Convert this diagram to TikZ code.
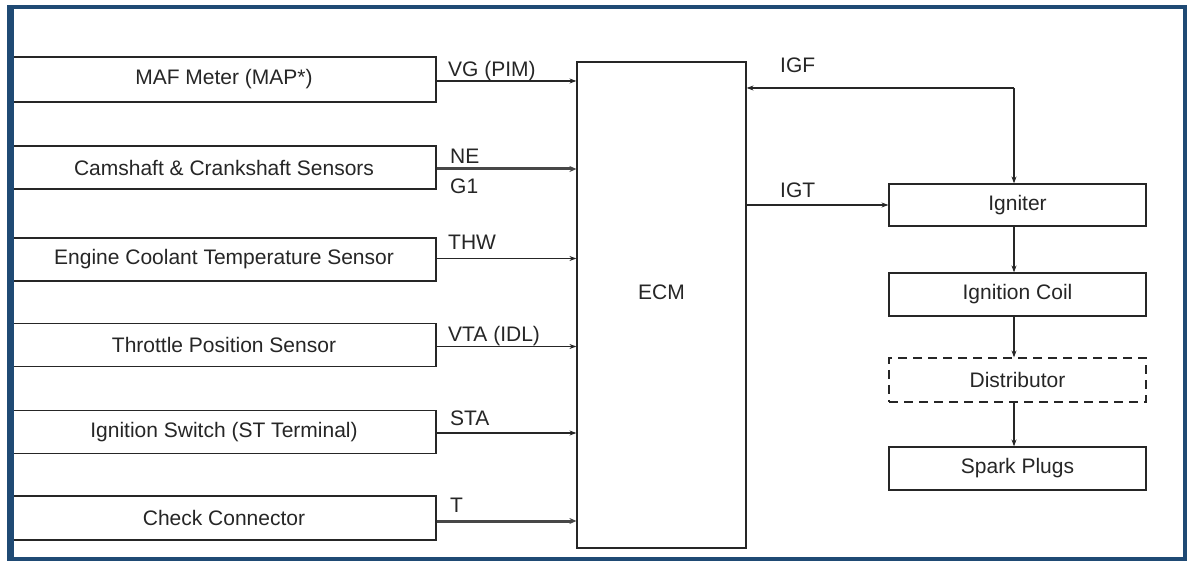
\documentclass[tikz,border=0pt]{standalone}
\usepackage{fontspec}
\setmainfont{Liberation Sans}
\usetikzlibrary{arrows.meta}
\definecolor{frameblue}{HTML}{1F4A74}
\definecolor{ink}{HTML}{262626}
\begin{document}
\begin{tikzpicture}[x=1pt,y=-1pt,
  box/.style={draw=ink,line width=1.2pt,rectangle,inner sep=0pt,text=ink,
    font=\fontsize{21}{24}\selectfont},
  lbox/.style={box,minimum width=424pt,minimum height=43pt},
  rbox/.style={box,minimum width=257pt,minimum height=43pt},
  sig/.style={font=\fontsize{21}{24}\selectfont,text=ink,inner sep=0pt,anchor=west},
  arr/.style={draw=ink,line width=1.1pt,-{Stealth[length=7pt,width=5pt]}},
  thickarr/.style={draw=ink!85,line width=3pt,-{Stealth[length=7pt,width=6pt]}}]
\useasboundingbox (0,0) rectangle (1187,561);
\fill[white] (0,0) rectangle (1187,561);
% left sensor boxes
\node[lbox,minimum height=45pt] (maf) at (224,79.5) {MAF Meter (MAP*)};
\node[lbox] (cam) at (224,167.5) {Camshaft \& Crankshaft Sensors};
\node[lbox] (ect) at (224,259.5) {Engine Coolant Temperature Sensor};
\node[lbox] (tps) at (224,345) {Throttle Position Sensor};
\node[lbox] (ign) at (224,432) {Ignition Switch (ST Terminal)};
\node[lbox,minimum height=44pt] (chk) at (224,518) {Check Connector};
% ECM
\node[box,minimum width=169pt,minimum height=486pt,
  label={[font=\fontsize{21}{24}\selectfont,text=ink,yshift=13pt]center:ECM}] (ecm) at (661.5,305) {};
% right chain
\node[rbox,minimum height=42pt] (igniter) at (1017.5,205) {Igniter};
\node[rbox] (coil) at (1017.5,294.5) {Ignition Coil};
\node[rbox,minimum height=44pt,dashed,dash pattern=on 9pt off 6pt] (dist) at (1017.5,380) {Distributor};
\node[rbox] (spark) at (1017.5,468.5) {Spark Plugs};
% inputs
\draw[arr] (maf.east |- 0,81) -- (ecm.west |- 0,81);
\draw[thickarr] (cam.east |- 0,169) -- (ecm.west |- 0,169);
\draw[arr] (ect.east |- 0,258.5) -- (ecm.west |- 0,258.5);
\draw[arr] (tps.east |- 0,346.5) -- (ecm.west |- 0,346.5);
\draw[arr] (ign.east |- 0,433) -- (ecm.west |- 0,433);
\draw[thickarr] (chk.east |- 0,521) -- (ecm.west |- 0,521);
\node[sig] (lvg) at (448,71) {VG (PIM)};
\node[sig] (lne) at (450,156) {NE};
\node[sig] (lg1) at (450,186) {G1};
\node[sig] (lthw) at (448,242) {THW};
\node[sig] (lvta) at (448,336) {VTA (IDL)};
\node[sig] (lsta) at (450,418) {STA};
\node[sig] (lt) at (450,505) {T};
% ignition signals
\coordinate (igfc) at (1014,88);
\draw[arr] (igfc) -- (ecm.east |- igfc);
\draw[arr] (igfc) -- (igniter.north -| igfc);
\draw[arr] (ecm.east |- igniter.west) -- (igniter.west);
\node[sig] (ligf) at (780,65) {IGF};
\node[sig] (ligt) at (780,190) {IGT};
\draw[arr] (igniter.south -| igfc) -- (coil.north -| igfc);
\draw[arr] (coil.south -| igfc) -- (dist.north -| igfc);
\draw[arr] (dist.south -| igfc) -- (spark.north -| igfc);
% frame
\draw[frameblue,line width=4pt] (10,7.5) rectangle (1185,558.5);
\draw[frameblue,line width=7pt] (10.5,5.5) -- (10.5,560.5);
\end{tikzpicture}
\end{document}
